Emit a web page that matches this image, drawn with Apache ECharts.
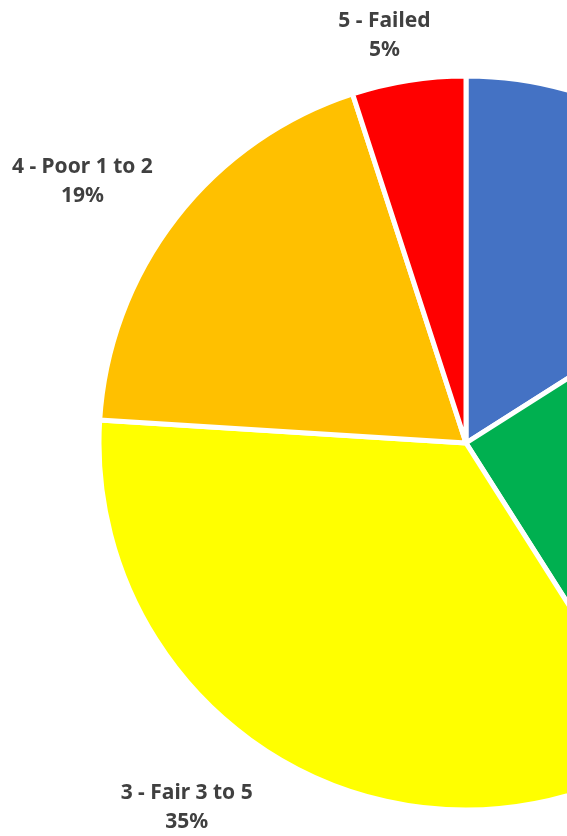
<!DOCTYPE html>
<html>
<head>
<meta charset="utf-8">
<script src="https://cdn.jsdelivr.net/npm/echarts@6/dist/echarts.min.js"></script>
<style>
  html, body { margin: 0; padding: 0; background: #fff; }
  #chart { width: 567px; height: 836px; }
</style>
</head>
<body>
<div id="chart"></div>
<script>
// condition ratings, clockwise from 12 o'clock
const categories = ['1 - Good >10', '2 - Satisfactory 6 to 10', '3 - Fair 3 to 5', '4 - Poor 1 to 2', '5 - Failed']
const shares = [16, 25, 35, 19, 5]
const colors = ['#4472C4', '#00B050', '#FFFF00', '#FFC000', '#FF0000']
// label distances, tuned per slice to sit where excel put them
const lineLen = [40, 40, 56, 59, 46]
const lineLen2 = [20, 20, 64, 47, 17]

const chart = echarts.init(document.getElementById('chart'))

const option = {
  animation: false,
  backgroundColor: '#fff',
  series: [
    {
      type: 'pie',
      center: [466, 443],
      radius: 367,
      startAngle: 90,
      clockwise: true,
      avoidLabelOverlap: false,
      percentPrecision: 0,
      itemStyle: {
        borderColor: '#fff',
        borderWidth: 5
      },
      label: {
        show: true,
        position: 'outside',
        formatter: '{b}\n{d}%',
        color: '#404040',
        fontFamily: 'Noto Sans',
        fontWeight: 'bold',
        fontSize: 21,
        lineHeight: 29,
        distanceToLabelLine: 0
      },
      labelLine: { show: false },
      labelLayout: { align: 'center', verticalAlign: 'middle' },
      data: categories.map((name, i) => ({
        name: name,
        value: shares[i],
        itemStyle: { color: colors[i] },
        labelLine: { show: false, length: lineLen[i], length2: lineLen2[i] }
      }))
    }
  ]
}

chart.setOption(option)
</script>
</body>
</html>
